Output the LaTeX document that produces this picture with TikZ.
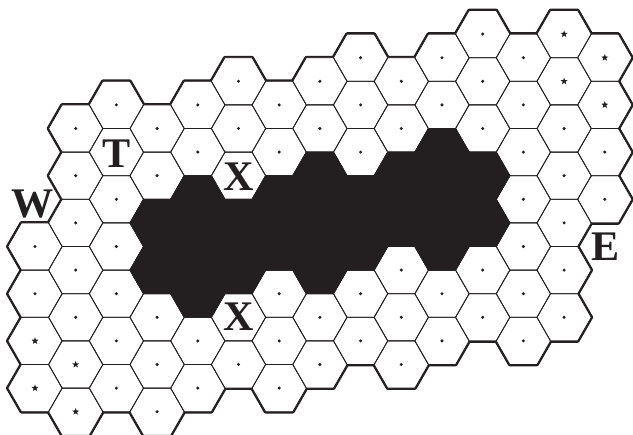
\documentclass[tikz,border=0pt]{standalone}
\usepackage{fontspec}
\setmainfont{Liberation Serif}
\usetikzlibrary{shapes.geometric}
\definecolor{inkblack}{RGB}{35,31,32}
\def\hx{40.7}
\def\hy{23.6}
\def\hr{27.13}
% columns of the board: column/first row/last row (rows go in steps of 2)
\def\boardcols{0/10/16, 1/5/17, 2/4/16, 3/5/17, 4/4/16, 5/3/15, 6/4/16, 7/3/15,
  8/2/14, 9/3/15, 10/2/14, 11/1/13, 12/2/14, 13/1/13, 14/2/8}
\tikzset{
    hexline/.style={draw=inkblack, line width=0.7pt, line join=round},
    hexrim/.style={draw=inkblack, line width=3.2pt, line join=round},
    hexblack/.style={fill=inkblack, draw=inkblack, line width=0.7pt, line join=round},
    starmark/.style={star, star points=5, star point ratio=2.4, fill=inkblack, inner sep=0pt, minimum size=2.2mm},
    letter/.style={inner sep=0pt, text=inkblack, font=\bfseries\fontsize{36}{40}\selectfont}
}
\newcommand{\hexat}[3][]{%
    \path[#1, shift={({35+#2*\hx}, {10.5+#3*\hy})}]
    (\hr,0) -- (\hr/2,\hy) -- (-\hr/2,\hy) -- (-\hr,0) -- (-\hr/2,-\hy) -- (\hr/2,-\hy) -- cycle;}
\newcommand{\cellpos}[2]{({35+#1*\hx}, {10.5+#2*\hy})}

\begin{document}
\begin{tikzpicture}[x=0.03cm, y=-0.03cm]
    \useasboundingbox (0,0) rectangle (633,434);

    % Outer rim: thick lines, the inner half is covered by the white fill below.
    \foreach \c/\rmin/\rmax in \boardcols {
            \pgfmathtruncatemacro\rnext{\rmin+2}
            \foreach \r in {\rmin,\rnext,...,\rmax} {
                    \hexat[hexrim]{\c}{\r}
                }
        }
    \foreach \c/\rmin/\rmax in \boardcols {
            \pgfmathtruncatemacro\rnext{\rmin+2}
            \foreach \r in {\rmin,\rnext,...,\rmax} {
                    \hexat[fill=white]{\c}{\r}
                }
        }
    % Cell borders.
    \foreach \c/\rmin/\rmax in \boardcols {
            \pgfmathtruncatemacro\rnext{\rmin+2}
            \foreach \r in {\rmin,\rnext,...,\rmax} {
                    \hexat[hexline]{\c}{\r}
                }
        }

    % Black region in the middle.
    \foreach \c/\r in {3/9, 3/11, 4/8, 4/10, 4/12, 5/9, 5/11, 6/8, 6/10, 7/7, 7/9, 7/11,
            8/8, 8/10, 9/7, 9/9, 10/6, 10/8, 10/10, 11/7, 11/9} {
            \hexat[hexblack]{\c}{\r}
        }

    % Dots in the plain cells.
    \foreach \c/\rows in {0/{10,12}, 1/{5,7,9,11,13}, 2/{4,8,10,12,14,16}, 3/{5,7,13,15,17},
            4/{4,6,14,16}, 5/{3,5,15}, 6/{4,6,12,14,16}, 7/{3,5,13,15}, 8/{2,4,6,12,14},
            9/{3,5,11,13,15}, 10/{2,4,12,14}, 11/{1,3,5,11,13}, 12/{2,4,6,8,10,12,14},
            13/{5,7,9,11,13}, 14/{6,8}} {
            \foreach \r in \rows {
                    \fill[inkblack] \cellpos{\c}{\r} circle[radius=0.5mm];
                }
        }
    % Stars in the corner cells.
    \foreach \c/\r in {0/14, 0/16, 1/15, 1/17, 13/1, 13/3, 14/2, 14/4} {
            \node[starmark] (star\c-\r) at \cellpos{\c}{\r} {};
        }

    % Letters.
    \node[letter] (labT) at (117,154) {T};
    \node[letter] (labXtop) at (239,177) {X};
    \node[letter] (labXbot) at (239,317) {X};
    \node[letter] (labW) at (33,204) {W};
    \node[letter] (labE) at (606,247) {E};
\end{tikzpicture}
\end{document}
